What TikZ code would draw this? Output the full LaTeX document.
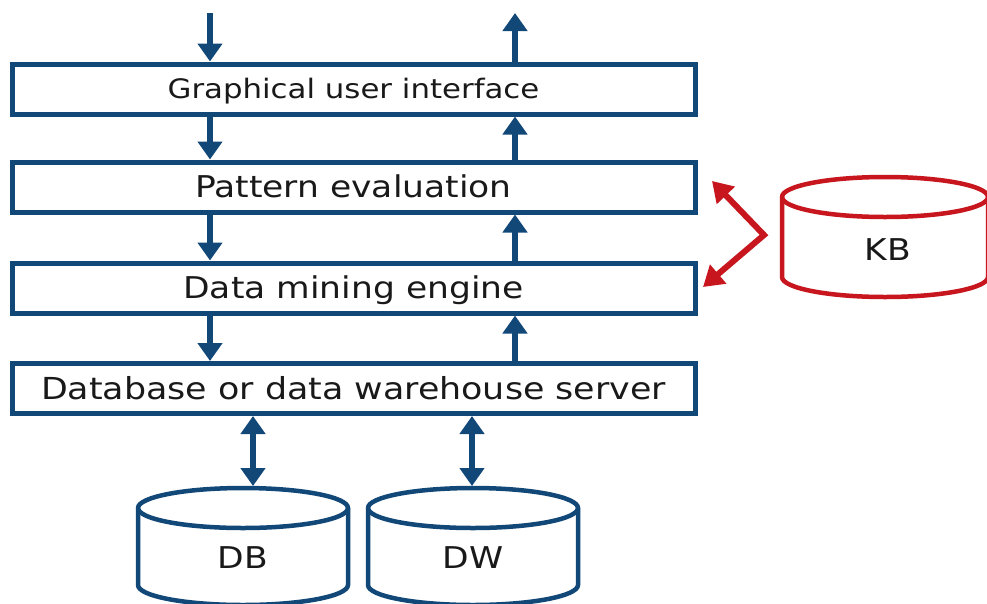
\documentclass[tikz,border=0pt]{standalone}
\usepackage{fontspec}
\setmainfont{DejaVu Sans}
\newfontfamily\wfont[FakeStretch=1.15]{DejaVu Sans}
\usetikzlibrary{arrows.meta}
\definecolor{dblue}{RGB}{18,72,120}
\definecolor{dred}{RGB}{200,22,30}
\definecolor{txt}{RGB}{25,25,25}
\tikzset{
  box/.style={draw=dblue, line width=5pt, fill=white, minimum width=683pt, minimum height=50pt, inner sep=0pt, text=txt, text height=21.8pt, text depth=0pt},
  arr/.style={draw=dblue, line width=6pt, -{Triangle[length=18pt,width=24pt]}},
  darr/.style={draw=dblue, line width=6pt, {Triangle[length=18pt,width=24pt]}-{Triangle[length=18pt,width=24pt]}},
  rarr/.style={draw=dred, line width=6pt, {Triangle[length=20pt,width=24pt]}-{Triangle[length=20pt,width=24pt]}},
  cyl/.style={line width=4.5pt, fill=white},
  lbl/.style={font=\wfont\fontsize{30}{32}\selectfont, inner sep=0pt, text=txt, text height=21.8pt, text depth=0pt}
}
\begin{document}
\begin{tikzpicture}[x=1pt,y=-1pt]
\useasboundingbox (0,0) rectangle (987,603);
\fill[white] (0,0) rectangle (987,603);
\begin{scope}
\clip (0,0) rectangle (987,603);
% boxes
\node[box, text height=19.5pt, font=\wfont\fontsize{26.8}{30}\selectfont] (gui) at (353.5,89) {Graphical user interface};
\node[box, font=\wfont\fontsize{30}{32}\selectfont] (pe) at (353.5,187) {Pattern evaluation};
\node[box, font=\wfont\fontsize{30}{32}\selectfont] (dme) at (353.5,288) {Data mining engine};
\node[box, font=\wfont\fontsize{30.3}{32}\selectfont] (dbs) at (353.5,388.5) {Database or data warehouse server};
\coordinate (lx) at (210,0);
\coordinate (rx) at (515,0);
\coordinate (inp) at (210,13);
\coordinate (outp) at (515,13);
% vertical flows
\draw[arr] (inp) -- (gui.north -| lx);
\draw[arr] (gui.north -| rx) -- (outp);
\draw[arr] (gui.south -| lx) -- (pe.north -| lx);
\draw[arr] (pe.north -| rx) -- (gui.south -| rx);
\draw[arr] (pe.south -| lx) -- (dme.north -| lx);
\draw[arr] (dme.north -| rx) -- (pe.south -| rx);
\draw[arr] (dme.south -| lx) -- (dbs.north -| lx);
\draw[arr] (dbs.north -| rx) -- (dme.south -| rx);
% cylinders DB, DW
\foreach \cx/\nm in {243/db, 473/dw} {
  \filldraw[draw=dblue, cyl] (\cx-105,508) -- (\cx-105,585) arc[start angle=180, end angle=0, x radius=105, y radius=20] -- (\cx+105,508) arc[start angle=0, end angle=-180, x radius=105, y radius=20] -- cycle;
  \draw[draw=dblue, line width=4.5pt] (\cx-105,508) arc[start angle=180, end angle=0, x radius=105, y radius=20];
  \coordinate (\nm top) at (\cx,486);
}
\node[lbl] (db) at (243,558) {DB};
\node[lbl] (dw) at (473,558) {DW};
\coordinate (dbx) at (253,0);
\coordinate (dwx) at (472,0);
\draw[darr] (dbs.south -| dbx) -- (dbtop -| dbx);
\draw[darr] (dbs.south -| dwx) -- (dwtop -| dwx);
% KB
\filldraw[draw=dred, cyl] (782,197) -- (782,277) arc[start angle=180, end angle=0, x radius=103, y radius=20] -- (988,197) arc[start angle=0, end angle=-180, x radius=103, y radius=20] -- cycle;
\draw[draw=dred, line width=4.5pt] (782,197) arc[start angle=180, end angle=0, x radius=103, y radius=20];
\node[lbl] (kb) at (888,250) {KB};
\coordinate (kv) at (764,235);
\coordinate (kt) at (712,181);
\coordinate (kbt) at (703,287);
\draw[rarr, line join=miter] (kt) -- (kv) -- (kbt);
\end{scope}
\end{tikzpicture}
\end{document}
